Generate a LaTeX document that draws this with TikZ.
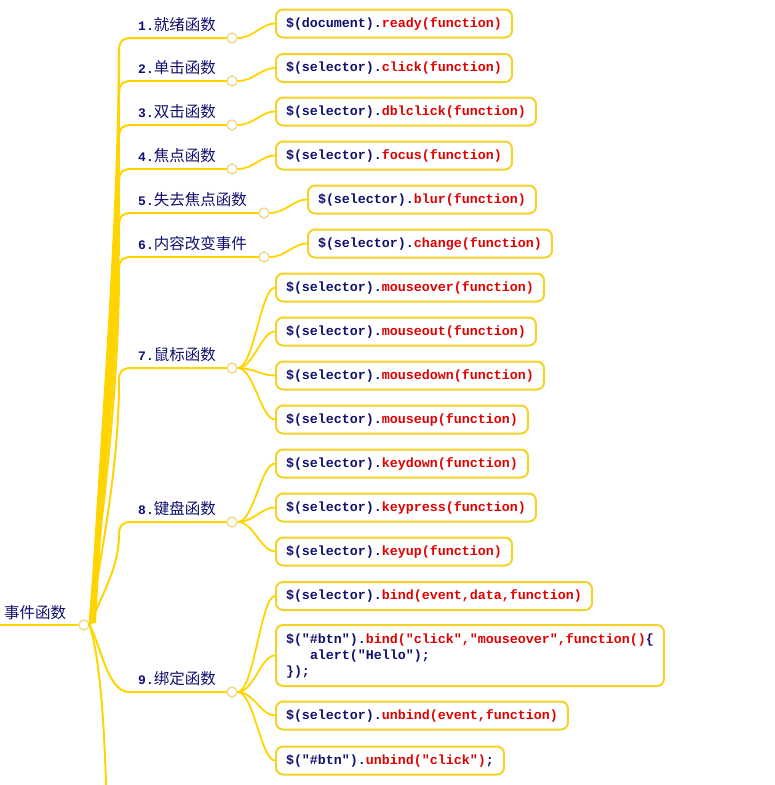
\documentclass[tikz,border=0pt]{standalone}
\usepackage{fontspec}
\newfontfamily\cjk{Noto Sans CJK SC}
\newfontfamily\codefont{Liberation Mono}
\definecolor{navy}{RGB}{16,16,110}
\definecolor{codered}{RGB}{225,0,0}
\definecolor{branch}{RGB}{255,212,0}
\definecolor{boxline}{RGB}{245,210,40}
\definecolor{circline}{RGB}{236,220,140}
\newcommand{\rtxt}[1]{\textcolor{codered}{#1}}
\newcommand{\numlab}[1]{{\codefont\bfseries\fontsize{13}{15}\selectfont #1}}
\tikzset{
  br/.style={draw=branch, line width=2pt, line cap=round},
  lk/.style={draw=branch, line width=1.8pt},
  knot/.style={circle, draw=circline, fill=white, line width=1.4pt, minimum size=10pt, inner sep=0pt},
  lab/.style={anchor=base west, inner sep=0pt, text=navy, font=\cjk\fontsize{15.5}{18}\selectfont},
  codebox/.style={anchor=west, draw=boxline, fill=white, line width=2pt, rounded corners=7pt,
    inner xsep=10pt, inner ysep=0pt, minimum height=28pt, text=navy,
    font=\codefont\bfseries\fontsize{13.33}{16}\selectfont},
}
\begin{document}
\begin{tikzpicture}[x=1pt,y=-1pt]
\useasboundingbox (0,0) rectangle (775,785);
% root
\coordinate (rootin) at (0,625);
\node[lab] (root) at (4,618) {事件函数};
\node[knot] (rc) at (84,625) {};
% level-1 knots
\node[knot] (c1) at (232,38) {};
\node[knot] (c2) at (232,81) {};
\node[knot] (c3) at (232,125) {};
\node[knot] (c4) at (232,169) {};
\node[knot] (c5) at (264,213) {};
\node[knot] (c6) at (264,257) {};
\node[knot] (c7) at (232,368) {};
\node[knot] (c8) at (232,522) {};
\node[knot] (c9) at (232,692) {};
\coordinate (c10) at (106,785);
% tapered trunk
\fill[branch] (rc.east) ++(0,-1) .. controls (100,430) and (117,238) .. (118,52)
   -- (120,52) .. controls (120.5,238) and (107,430) .. (96,623) -- cycle;
\draw[lk] (rootin) -- (rc.west);
% level-1 labels
\node[lab] (l1) at (138,30) {\numlab{1.}就绪函数};
\node[lab] (l2) at (138,73) {\numlab{2.}单击函数};
\node[lab] (l3) at (138,117) {\numlab{3.}双击函数};
\node[lab] (l4) at (138,161) {\numlab{4.}焦点函数};
\node[lab] (l5) at (138,205) {\numlab{5.}失去焦点函数};
\node[lab] (l6) at (138,249) {\numlab{6.}内容改变事件};
\node[lab] (l7) at (138,360) {\numlab{7.}鼠标函数};
\node[lab] (l8) at (138,514) {\numlab{8.}键盘函数};
\node[lab] (l9) at (138,684) {\numlab{9.}绑定函数};
% upward branches
\foreach \yy/\cc in {38/c1,81/c2,125/c3,169/c4,213/c5,257/c6,368/c7,522/c8}{
  \draw[br] (rc.east) .. controls (104,{625-0.34*(625-\yy)}) and (119,{\yy+12+0.32*(625-\yy)}) .. (119,{\yy+12})
     .. controls (119.5,{\yy+3}) and (122,\yy) .. (132,\yy) -- (\cc.west);
}
% downward branches
\draw[br] (rc.east) .. controls (102,650) and (108,690) .. (128,692) -- (c9.west);
\draw[br] (rc.east) .. controls (100,660) and (104,720) .. (c10);
% level-2 boxes
\node[codebox] (b1) at (275,23.5) {\$(document).\rtxt{ready(function)}};
\node[codebox] (b2) at (275,68) {\$(selector).\rtxt{click(function)}};
\node[codebox] (b3) at (275,111.5) {\$(selector).\rtxt{dblclick(function)}};
\node[codebox] (b4) at (275,155.5) {\$(selector).\rtxt{focus(function)}};
\node[codebox] (b5) at (307,199.5) {\$(selector).\rtxt{blur(function)}};
\node[codebox] (b6) at (307,243.5) {\$(selector).\rtxt{change(function)}};
\node[codebox] (b7a) at (275,287.5) {\$(selector).\rtxt{mouseover(function)}};
\node[codebox] (b7b) at (275,331.5) {\$(selector).\rtxt{mouseout(function)}};
\node[codebox] (b7c) at (275,375.5) {\$(selector).\rtxt{mousedown(function)}};
\node[codebox] (b7d) at (275,419.5) {\$(selector).\rtxt{mouseup(function)}};
\node[codebox] (b8a) at (275,463.5) {\$(selector).\rtxt{keydown(function)}};
\node[codebox] (b8b) at (275,507.5) {\$(selector).\rtxt{keypress(function)}};
\node[codebox] (b8c) at (275,551.5) {\$(selector).\rtxt{keyup(function)}};
\node[codebox] (b9a) at (275,596) {\$(selector).\rtxt{bind(event,data,function)}};
\node[codebox, align=left, minimum height=61pt] (b9b) at (275,655.5)
  {\$("\#btn").\rtxt{bind("click","mouseover",function()}\{\\
   \hphantom{xxx}alert("Hello");\\
   \});};
\node[codebox] (b9c) at (275,715.5) {\$(selector).\rtxt{unbind(event,function)}};
\node[codebox] (b9d) at (275,760.5) {\$("\#btn").\rtxt{unbind("click")};};
% level-2 links
\foreach \cc/\bb in {c1/b1,c2/b2,c3/b3,c4/b4,c5/b5,c6/b6,c7/b7a,c7/b7b,c7/b7c,c7/b7d,c8/b8a,c8/b8b,c8/b8c,c9/b9a,c9/b9b,c9/b9c,c9/b9d}{
  \draw[lk] (\cc.east) .. controls +(16,0) and +(-14,0) .. (\bb.west);
}
\end{tikzpicture}
\end{document}
